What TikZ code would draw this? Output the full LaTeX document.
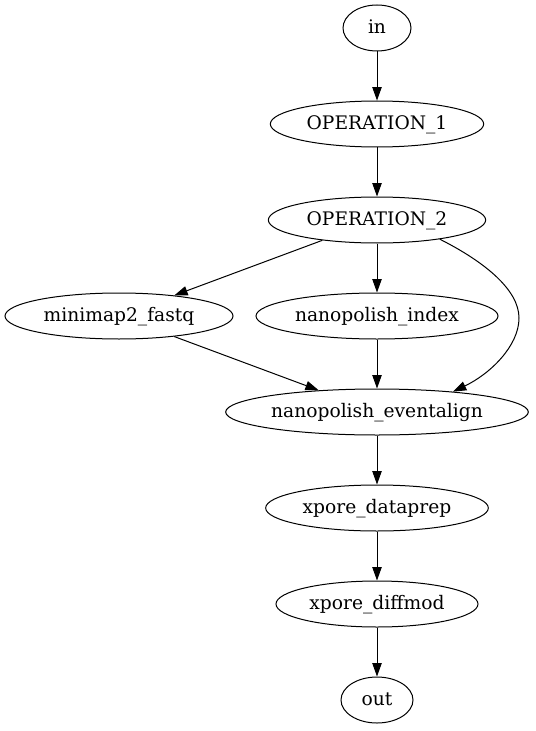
\documentclass[tikz,border=0pt]{standalone}
\usepackage{fontspec}
\setmainfont{DejaVu Serif}
\usepackage{tikz}
\usetikzlibrary{shapes,arrows.meta,calc,positioning,shapes.geometric}
\tikzstyle{op}=[ellipse,draw=black,line width=0.75pt,inner sep=0pt,minimum height=34.5pt,text height=10.7pt,text depth=2.5pt,font=\fontsize{14}{16}\selectfont]
\tikzstyle{edge}=[->,draw=black,line width=0.75pt]

\begin{document}
\begin{tikzpicture}[>={Triangle[length=10pt,width=7pt]},x=0.75pt,y=-0.75pt]
\useasboundingbox (0,0) rectangle (535,731);
\node[op,minimum width=51pt] (IN) at (377,28) {in};
\node[op,minimum width=160pt] (O1) at (377,124) {OPERATION\_1};
\node[op,minimum width=163pt] (O2) at (377,220) {OPERATION\_2};
\node[op,minimum width=171pt] (MF) at (119,316) {minimap2\_fastq};
\node[op,minimum width=181.5pt] (NI) at (377,316) {nanopolish\_index};
\node[op,minimum width=227pt] (NE) at (377,412) {nanopolish\_eventalign};
\node[op,minimum width=167pt] (XD) at (377,508) {xpore\_dataprep};
\node[op,minimum width=151.5pt] (XM) at (377,604) {xpore\_diffmod};
\node[op,minimum width=54pt] (OUT) at (377,700) {out};
\draw [edge] (IN) to (O1);
\draw [edge] (O1) to (O2);
\draw [edge] (O2) to (MF);
\draw [edge] (O2) to (NI);
\draw [edge] (O2.-17) .. controls (485,262) and (519,290) .. (519,318)
  .. controls (519,346) and (490,374) .. (NE.15);
\draw [edge] (MF) to (NE);
\draw [edge] (NI) to (NE);
\draw [edge] (NE) to (XD);
\draw [edge] (XD) to (XM);
\draw [edge] (XM) to (OUT);
\end{tikzpicture}
\end{document}
